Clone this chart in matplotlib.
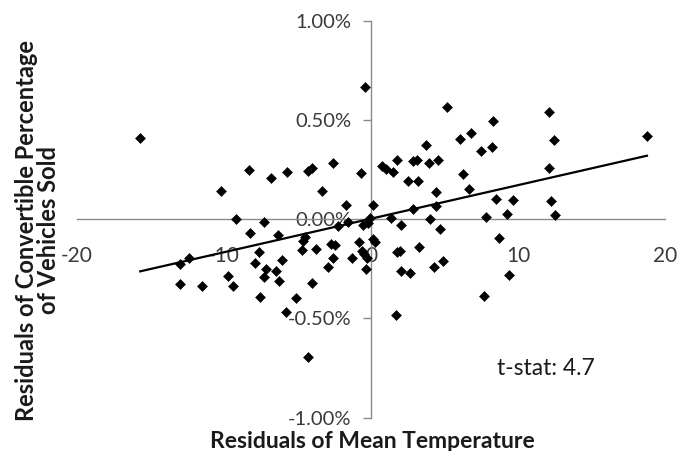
#!/usr/bin/env python3
"""Residuals of convertible share vs residuals of mean temperature."""
import numpy as np
import matplotlib
matplotlib.use("Agg")
import matplotlib.pyplot as plt
from matplotlib.ticker import FuncFormatter

# Residuals of mean temperature (x) and convertible share in percent (y)
TEMP_RESID = [
    -0.4, -15.7, -10.2, -8.3, -6.8, -5.7, -4.3, -4.0, -3.3, -2.6, -0.7, -1.7,
    0.16, -9.2, -7.3, -8.2, -6.3, 5.14, 12.08, 8.3, 6.78, 6.03, 12.42, 3.77,
    7.47, 8.22, 0.77, 1.03, 1.53, 1.8, 2.83, 3.13, 3.93, 4.57, 2.55, 3.17,
    6.25, 12.08, 4.43, 6.67, 8.49, 9.63, 12.22, 2.83, 4.43, -0.07, 1.35, 4.0,
    7.8, 9.25, 12.53, 2.05, 4.66, 8.73, 0.16, 0.27, 1.8, 1.99, 3.29, -0.34,
    2.05, 2.67, 4.27, 4.91, 9.36, 7.7, 1.71, -12.97, -12.4, -12.97, -11.53,
    -9.7, -9.36, -7.65, -7.9, -7.14, -7.26, -6.45, -6.07, -6.23, -7.55, -5.09,
    -3.99, -5.78, -4.29, -4.52, -4.64, -4.68, -3.77, -2.74, -2.42, -2.58, -2.9,
    -1.32, -0.82, -0.64, -0.46, -0.29, -2.23, -1.55, -0.57, -0.18, 18.77,
]
CONV_RESID = [
    0.668, 0.41, 0.142, 0.25, 0.21, 0.24, 0.243, 0.26, 0.142, 0.285, 0.232, 0.074,
    0.074, 0.003, -0.015, -0.07, -0.08, 0.566, 0.539, 0.497, 0.432, 0.402, 0.398, 0.372,
    0.343, 0.365, 0.268, 0.251, 0.24, 0.30, 0.293, 0.298, 0.285, 0.296, 0.192, 0.192,
    0.226, 0.256, 0.139, 0.151, 0.10, 0.095, 0.092, 0.05, 0.067, 0.008, 0.008, 0.003,
    0.01, 0.025, 0.022, -0.03, -0.05, -0.097, -0.10, -0.114, -0.164, -0.159, -0.142, -0.251,
    -0.26, -0.271, -0.24, -0.213, -0.28, -0.388, -0.482, -0.226, -0.197, -0.327, -0.335,
    -0.285, -0.335, -0.167, -0.221, -0.251, -0.293, -0.26, -0.204, -0.31, -0.39, -0.399,
    -0.323, -0.469, -0.692, -0.092, -0.112, -0.154, -0.151, -0.126, -0.129, -0.196, -0.243,
    -0.196, -0.117, -0.162, -0.176, -0.197, -0.034, -0.014, -0.030, -0.017, 0.419,
]

X_TICKS = [-20, -10, 0, 10, 20]
Y_TICKS = [1.0, 0.5, 0.0, -0.5, -1.0]
T_STAT = "t-stat: 4.7"

FONT = ["Lato", "DejaVu Sans"]
TICK_COLOR = "#3a3a3a"
AXIS_COLOR = "#8a8a8a"

x = np.array(TEMP_RESID)
y = np.array(CONV_RESID)

fig = plt.figure(figsize=(6.79, 4.51), dpi=100)
ax = fig.add_axes([0.1134, 0.0740, 0.8660, 0.8800])

ax.plot(x, y, linestyle="None", marker="D", markersize=4.6,
        markerfacecolor="black", markeredgecolor="black", markeredgewidth=0.4,
        zorder=3)

# Linear trend over the range of the data
slope, intercept = np.polyfit(x, y, 1)
xs = np.array([x.min(), x.max()])
ax.plot(xs, slope * xs + intercept, color="black", linewidth=1.6, zorder=4)

ax.set_xlim(-20, 20)
ax.set_ylim(-1.0, 1.0)

# Axes cross at the origin, Excel style
for side in ("top", "right"):
    ax.spines[side].set_visible(False)
for side in ("left", "bottom"):
    ax.spines[side].set_position("zero")
    ax.spines[side].set_color(AXIS_COLOR)
    ax.spines[side].set_linewidth(1.0)

ax.set_xticks(X_TICKS)
ax.set_yticks(Y_TICKS)
ax.xaxis.set_major_formatter(FuncFormatter(lambda v, _: f"{v:g}"))
ax.yaxis.set_major_formatter(FuncFormatter(lambda v, _: f"{v:.2f}%"))
ax.tick_params(axis="x", length=0, pad=19, labelsize=15, labelcolor=TICK_COLOR)
ax.tick_params(axis="y", direction="out", length=6, width=1.0, color=AXIS_COLOR,
               pad=8, labelsize=14.5, labelcolor=TICK_COLOR)
for lab in ax.get_xticklabels() + ax.get_yticklabels():
    lab.set_family(FONT)

ax.text(11.9, -0.75, T_STAT, ha="center", va="center", fontsize=16.5,
        color="#1a1a1a", family=FONT)

fig.text(0.548, 0.022, "Residuals of Mean Temperature", ha="center", va="center",
         fontsize=16.5, fontweight="bold", color="#1a1a1a", family=FONT)
fig.text(0.055, 0.49, "Residuals of Convertible Percentage\nof Vehicles Sold",
         ha="center", va="center", rotation=90, fontsize=17, fontweight="bold",
         color="#1a1a1a", family=FONT, linespacing=0.95)

fig.savefig("out.png", dpi=100)
